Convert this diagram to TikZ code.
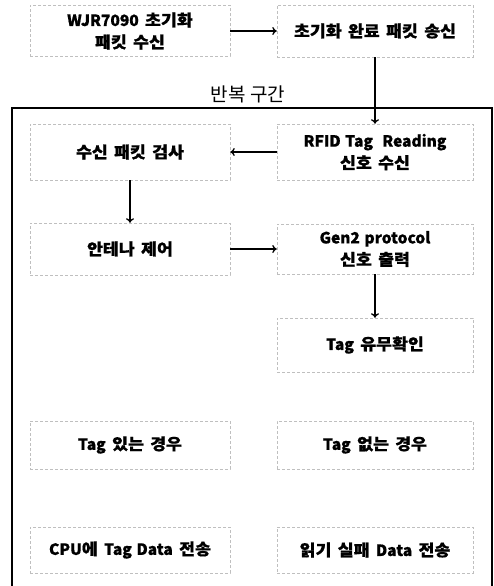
\documentclass[tikz,border=0pt]{standalone}
\usepackage{fontspec}
\setmainfont{Noto Sans CJK KR}[FakeStretch=1.08, WordSpace=1.6, BoldFeatures={FakeBold=0.7}]
\newfontfamily\lt{Noto Sans CJK KR}[WordSpace=1.3, BoldFeatures={FakeBold=0.7}]
\newfontfamily\krreg{Noto Sans CJK KR}
\usetikzlibrary{arrows.meta}
\newcommand\latin[1]{{\lt\fontsize{15.5}{22}\selectfont #1}}
\begin{document}
\begin{tikzpicture}[x=1pt,y=-1pt,
  box/.style={draw=gray!50, dash pattern=on 3pt off 2pt, line width=0.5pt, inner sep=0pt,
    font=\bfseries\fontsize{16}{22}\selectfont, align=center},
  arr/.style={line width=1.3pt, -{To[length=4.5pt,width=8pt]}}]
\useasboundingbox (0,0) rectangle (493,586);
% outer loop frame
\draw[line width=1.5pt] (12,587) -- (12,108) -- (492,108) -- (492,587);
\node[font=\krreg\fontsize{19}{22}\selectfont] (loop) at (248,94) {반복 구간};
% nodes
\node[box, minimum width=200pt, minimum height=51pt] (b1) at (130,31) {\latin{WJR7090} 초기화\\패킷 수신};
\node[box, minimum width=196pt, minimum height=52pt] (b2) at (375,31) {초기화 완료 패킷 송신};
\node[box, minimum width=196pt, minimum height=56pt] (rfid) at (375,152) {\latin{RFID Tag\ \ Reading}\\신호 수신};
\node[box, minimum width=200pt, minimum height=56pt] (chk) at (130,152) {수신 패킷 검사};
\node[box, minimum width=200pt, minimum height=52pt] (ant) at (130,249) {안테나 제어};
\node[box, minimum width=196pt, minimum height=50pt] (gen) at (375,249) {\latin{Gen2 protocol}\\신호 출력};
\node[box, minimum width=196pt, minimum height=54pt] (tq) at (375,345) {\latin{Tag} 유무확인};
\node[box, minimum width=200pt, minimum height=48pt] (yes) at (130,445) {\latin{Tag} 있는 경우};
\node[box, minimum width=196pt, minimum height=48pt] (no) at (375,445) {\latin{Tag} 없는 경우};
\node[box, minimum width=200pt, minimum height=46pt] (cpu) at (130,550) {\latin{CPU}에 \latin{Tag Data} 전송};
\node[box, minimum width=196pt, minimum height=46pt] (fail) at (375,550) {읽기 실패 \latin{Data} 전송};
% connectors
\draw[arr] (b1.east) -- (b2.west);
\draw[arr] (b2.south) -- (rfid.north);
\draw[arr] (rfid.west) -- (chk.east);
\draw[arr] (chk.south) -- (ant.north);
\draw[arr] (ant.east) -- (gen.west);
\draw[arr] (gen.south) -- (tq.north);
\end{tikzpicture}
\end{document}
